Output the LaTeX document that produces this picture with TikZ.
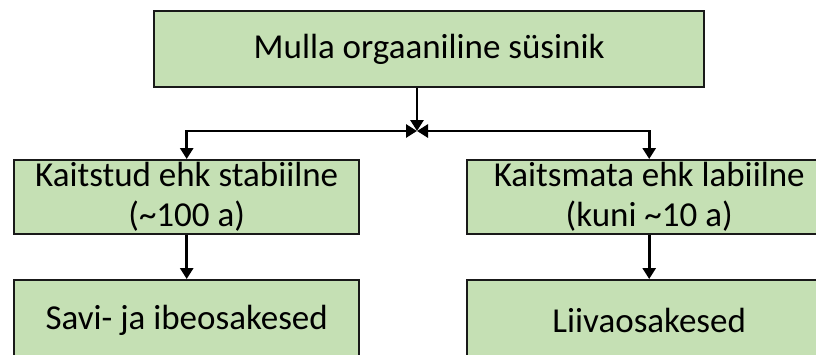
\documentclass[tikz,border=0pt]{standalone}
\usepackage{fontspec}
\setmainfont{Carlito}
\usetikzlibrary{arrows.meta,calc}
\definecolor{rohe}{HTML}{C5E0B4}
\newcommand{\kastlaius}{345pt}
\newcommand{\kastkorgus}{74pt}
\tikzstyle{kast}=[rectangle, line width=2.4pt, minimum width=\kastlaius, minimum height=\kastkorgus, draw=black!90, fill=rohe, inner sep=0pt, anchor=north west, align=center, font=\fontsize{35}{40}\selectfont]
\tikzstyle{nool}=[line width=2.8pt, draw=black]

\begin{document}
\begin{tikzpicture}[x=1pt,y=-1pt,>={Triangle[length=11pt,width=13pt]}]

 \useasboundingbox (0,0) rectangle (816,354);
 \clip (0,0) rectangle (816,354);

 \node[kast,minimum width=550pt,minimum height=76pt] (mulla) at (153,10) {Mulla orgaaniline süsinik};

 \node[kast] (kaitstud) at (13,159) {Kaitstud ehk stabiilne\\(\textasciitilde100 a)};
 \node[kast,minimum width=364pt] (kaitsmata) at (466,159) {Kaitsmata ehk labiilne\\(kuni \textasciitilde10 a)};

 \node[kast,minimum height=80pt] (savi) at (13,279) {Savi- ja ibeosakesed};
 \node[kast,minimum width=364pt,minimum height=80pt] (liiva) at (466,279) {Liivaosakesed};

 \coordinate (jn) at (417,131);

 \draw[nool,->] (mulla.south -| jn) -- (jn);
 \draw[nool,<->] (jn) -| (kaitstud.north);
 \draw[nool,<->] (jn) -| (kaitsmata.north);
 \draw[nool,->] (kaitstud) -- (savi);
 \draw[nool,->] (kaitsmata) -- (liiva);

\end{tikzpicture}
\end{document}
